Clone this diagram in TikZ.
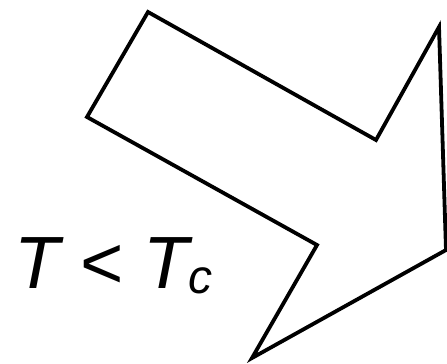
\documentclass[tikz,border=0pt]{standalone}
\usepackage{fontspec}
\newfontfamily\lightfont{Liberation Sans}
\usepackage{tikz}

\begin{document}
\begin{tikzpicture}[x=1pt, y=-1pt]
  \tikzset{
      outline/.style={draw, line width=3.8pt, miter limit=20},
      cond/.style={anchor=base west, inner sep=0pt, font=\fontsize{74}{80}\lightfont\itshape}
  }
  \useasboundingbox (0,0) rectangle (447,364);

  % big bent arrow
  \draw[outline] (148,12) -- (376,140) -- (439,27) -- (446,250)
     -- (252,358) -- (317,245) -- (87,117) -- cycle;

  % condition label
  \node[cond] (lbl) at (14,288) {T < T\raisebox{-5pt}{\fontsize{48}{50}\selectfont c}};
\end{tikzpicture}
\end{document}
